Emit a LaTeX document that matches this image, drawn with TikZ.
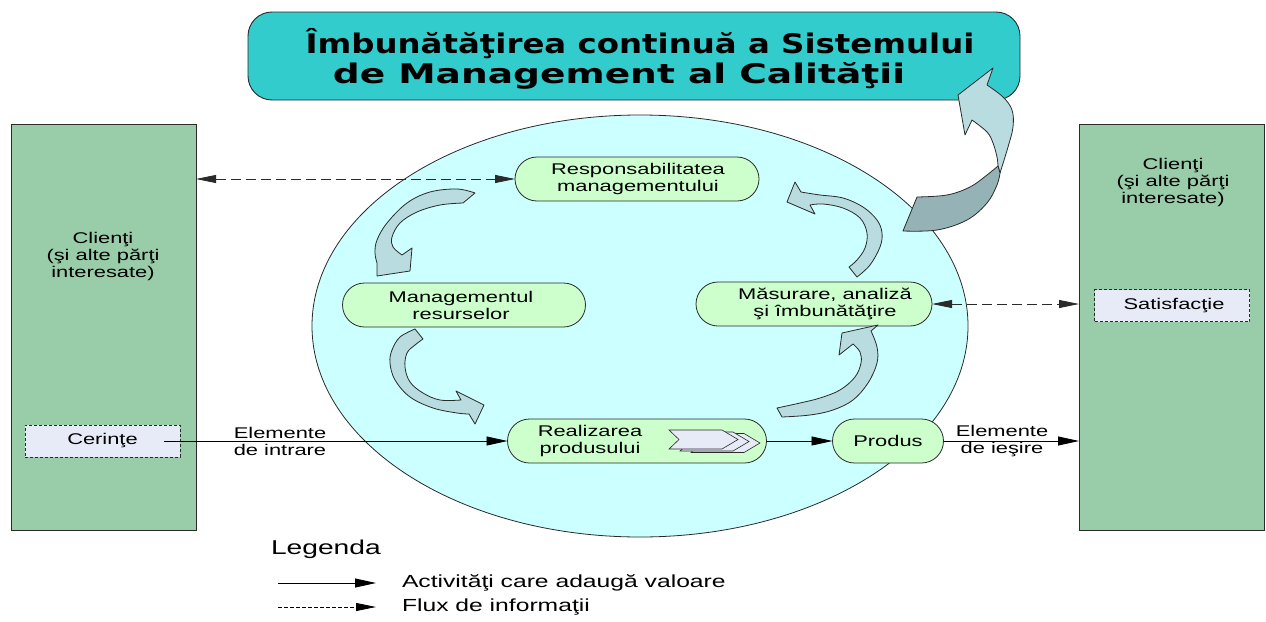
\documentclass[tikz,border=0pt]{standalone}
\usepackage{fontspec}
\usepackage{graphicx}
\setmainfont{Liberation Sans}[FakeStretch=1.41]
\newfontfamily\headfont{DejaVu Sans}[FakeStretch=1.2]
\usetikzlibrary{arrows.meta,shapes.geometric}

\definecolor{clientgreen}{HTML}{99CCA8}
\definecolor{titlecyan}{HTML}{33CCCC}
\definecolor{processcyan}{HTML}{CCFFFF}
\definecolor{stagegreen}{HTML}{CCFFCC}
\definecolor{notefill}{HTML}{E6EBF7}
\definecolor{curlfill}{HTML}{B8DCE0}
\definecolor{curldark}{HTML}{95B3B6}
\definecolor{edge}{HTML}{2A2A2A}

\begin{document}
\begin{tikzpicture}[x=1pt,y=-1pt,
  every node/.style={inner sep=0pt,outer sep=0pt},
  txt/.style={align=center,font=\fontsize{15.5}{17}\selectfont},
  clientbox/.style={draw=edge,fill=clientgreen,line width=0.9pt,
    minimum width=185pt,minimum height=406pt},
  notebox/.style={draw=edge,fill=notefill,line width=0.7pt,
    dash pattern=on 3pt off 2pt,minimum width=155pt,minimum height=32pt,
    font=\fontsize{15.5}{17}\selectfont},
  stage/.style={draw=edge,fill=stagegreen,line width=0.8pt,
    rounded corners=22pt,minimum height=44pt},
  headbox/.style={draw=edge,fill=titlecyan,line width=0.9pt,
    rounded corners=24pt,minimum width=772pt,minimum height=88pt},
  headtext/.style={font=\headfont\bfseries\fontsize{27}{32}\selectfont},
  flow/.style={line width=0.9pt,-{Triangle[length=21pt,width=9pt]}},
  info/.style={draw=edge,line width=0.8pt,dash pattern=on 10pt off 5pt,
    {Triangle[length=20pt,width=8pt]}-{Triangle[length=20pt,width=8pt]}},
  curl/.style={draw=edge,fill=curlfill,line width=0.8pt,line join=round},
  curlshade/.style={draw=edge,fill=curldark,line width=0.8pt,line join=round},
  chevron/.style={draw=edge,fill=notefill,line width=0.6pt,line join=miter},
]
\useasboundingbox (0,0) rectangle (1266,621);
\fill[white] (0,0) rectangle (1266,621);

% customers on both sides
\node[clientbox] (leftc) at (103.5,327) {};
\node[clientbox] (rightc) at (1171.5,327) {};
\node[txt] (leftcl) at (103,256) {Clienţi\\(şi alte părţi\\interesate)};
\node[txt] (rightcl) at (1173,182) {Clienţi\\(şi alte părţi\\interesate)};
\node[notebox] (req) at (102.5,441) {Cerinţe};
\node[notebox] (sat) at (1172,305.5) {\hspace{4pt}Satisfacţie};
\coordinate (reqout) at (164,441);

% heading
\node[headbox] (head) at (634,56) {};
\node[headtext] (head1) at (640,44) {Îmbunătăţirea continuă a Sistemului};
\node[headtext] (head2) at (619,76) {\scalebox{1.16}[1]{de Management al Calităţii}};

% process loop
\node[ellipse,draw=edge,fill=processcyan,line width=0.8pt,
  minimum width=656pt,minimum height=422pt] (qms) at (640,326) {};

% connectors
\draw[flow] (reqout) -- (507.5,441) coordinate (realin);
\node[txt] (inlbl) at (280,441) {Elemente\\de intrare};
\draw[info] (leftc.east |- 0,179) coordinate (lefti) -- (515,179) coordinate (respin);

% stages
\node[stage,minimum width=244pt] (resp) at (637,179) {};
\node[txt] (respl) at (638,179) {Responsabilitatea\\managementului};
\node[stage,minimum width=243pt] (resm) at (464,305) {};
\node[txt] (resml) at (461,305) {Managementul\\resurselor};
\node[stage,minimum width=236pt] (meas) at (814,304) {};
\node[txt] (measl) at (825,304) {Măsurare, analiză\\şi îmbunătăţire};
\node[stage,minimum width=259pt] (real) at (637,441) {};
\node[txt] (reall) at (590,441) {Realizarea\\produsului};
\node[stage,minimum width=111pt] (prod) at (888,441) {};
\node[txt] (prodl) at (888,441) {Produs};

\draw[flow] (real.east) -- (prod.west);
\draw[flow] (prod.east) -- (prod.east -| rightc.west);
\node[txt] (outlbl) at (1002,441) {Elemente\\de ieşire};
\draw[info] (meas.east) -- (meas.east -| rightc.west);

% stacked chevrons inside the realisation stage
\foreach \dx/\dy in {22/3.5,11/2,0/0}{
  \draw[chevron,shift={(\dx,\dy)}] (669,430) -- (722,430) -- (738,439.5)
    -- (722,449) -- (669,449) -- (679,439.5) -- cycle;
}

% curved arrows of the cycle
\draw[curl] plot[smooth,tension=0.6] coordinates {(475,193) (457,189) (430,192)
    (407,203) (387,223) (377,240) (375,253) (377,263)}
  -- (377,276) -- (410,271) -- (412,248)
  -- plot[smooth,tension=0.6] coordinates {(402,255) (393,247) (392,237)
    (400,223) (417,212) (440,205) (463,203)} -- cycle;

\draw[curl] plot[smooth,tension=0.6] coordinates {(415,329) (400,337) (392,350)
    (390,363) (395,380) (410,397) (433,408) (457,413) (469,414)}
  -- (475,424) -- (484,405) -- (456,391)
  -- plot[smooth,tension=0.6] coordinates {(461,400) (440,400) (423,393)
    (410,382) (405,367) (407,353) (415,345) (423,339)} -- cycle;

\draw[curl] plot[smooth,tension=0.6] coordinates {(857,277) (870,265) (880,247)
    (882,233) (877,220) (863,207) (843,198) (820,195) (807,193) (801,192)}
  -- (795,182) -- (787,202) -- (815,214)
  -- plot[smooth,tension=0.6] coordinates {(810,205) (823,204) (843,208)
    (860,218) (867,233) (865,248) (857,260) (849,267)} -- cycle;

\draw[curl] plot[smooth,tension=0.6] coordinates {(782,417) (810,415) (833,410)
    (853,400) (868,383) (877,363) (877,347) (871,331)}
  -- (878,325) -- (842,333) -- (839,355)
  -- plot[smooth,tension=0.6] coordinates {(853,344) (860,352) (861,363)
    (855,377) (840,390) (820,398) (800,403) (777,408)} -- cycle;

% twisted arrow rising to the heading
\draw[curl] plot[smooth,tension=0.6] coordinates {(1000,173) (1008,147)
    (1013,127) (1012,110) (1003,97) (987,85)}
  -- (993,68) -- (958,95) -- (965,135)
  -- plot[smooth,tension=0.6] coordinates {(972,120) (987,132) (993,143)
    (997,157) (998,166)} -- cycle;
\draw[curlshade] (903,231) -- (917,197)
  -- plot[smooth,tension=0.6] coordinates {(917,197) (947,195) (970,187)
    (987,175) (998,166)}
  -- plot[smooth,tension=0.6] coordinates {(1000,173) (997,185) (987,203)
    (967,220) (937,230) (903,231)} -- cycle;

% legend
\node[anchor=west,font=\fontsize{20}{24}\selectfont] (legtitle) at (271,549) {Legenda};
\coordinate (la) at (278,583);
\coordinate (lb) at (376,583);
\draw[flow] (la) -- (lb);
\node[anchor=west,font=\fontsize{17.5}{20}\selectfont] (leg1) at (402,583) {Activităţi care adaugă valoare};
\coordinate (lc) at (278,607);
\coordinate (ld) at (376,607);
\draw[line width=0.8pt,dash pattern=on 4pt off 2pt,-{Triangle[length=20pt,width=8pt]}] (lc) -- (ld);
\node[anchor=west,font=\fontsize{17.5}{20}\selectfont] (leg2) at (402,607) {Flux de informaţii};
\end{tikzpicture}
\end{document}
